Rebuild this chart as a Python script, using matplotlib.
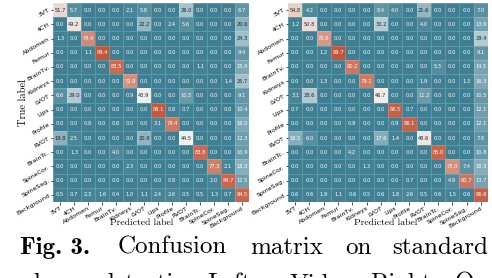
import numpy as np
import matplotlib
matplotlib.use("Agg")
import matplotlib.pyplot as plt
import seaborn as sns

CLASSES = ["3VT", "4CH", "Abdomen", "Femur", "BrainTv.", "Kidneys", "LVOT",
           "Lips", "Profile", "RVOT", "BrainTc.", "SpineCor.", "SpineSag.",
           "Background"]

# left: video baseline (row = true, col = predicted, in %)
CM_LEFT = [
    [51.7, 5.7, 0.0, 0.0, 0.0, 2.1, 5.8, 0.0, 0.0, 26.0, 0.0, 0.0, 0.0, 8.7],
    [0.0, 49.2, 0.0, 0.0, 0.0, 0.0, 22.2, 0.0, 2.4, 5.6, 0.0, 0.0, 0.0, 20.6],
    [1.3, 0.0, 74.4, 0.0, 0.0, 0.0, 0.0, 0.0, 0.0, 0.0, 0.0, 0.0, 0.0, 24.3],
    [0.0, 0.0, 1.1, 89.4, 0.0, 0.0, 0.0, 0.0, 0.0, 0.0, 0.0, 0.0, 0.0, 9.4],
    [0.0, 0.0, 0.0, 0.0, 83.5, 0.0, 0.0, 0.0, 0.0, 0.0, 1.1, 0.0, 0.0, 15.4],
    [0.0, 0.0, 0.0, 0.0, 0.0, 72.9, 0.0, 0.0, 0.0, 0.0, 0.0, 0.0, 1.4, 25.7],
    [6.6, 29.0, 0.0, 0.0, 0.0, 0.9, 43.9, 0.0, 0.0, 10.5, 0.0, 0.0, 0.0, 9.1],
    [0.0, 0.0, 0.0, 0.0, 0.0, 0.0, 0.0, 88.1, 0.8, 0.7, 0.0, 0.0, 0.0, 10.4],
    [0.0, 0.0, 0.8, 0.0, 0.8, 0.0, 0.0, 3.1, 79.4, 0.0, 0.0, 0.0, 0.0, 16.0],
    [19.8, 2.5, 0.0, 0.0, 0.0, 0.0, 20.9, 0.0, 0.0, 44.5, 0.0, 0.0, 0.0, 12.3],
    [0.0, 1.3, 0.0, 0.0, 4.0, 0.0, 0.0, 0.0, 0.0, 0.0, 83.8, 0.0, 0.0, 10.9],
    [0.0, 0.0, 0.0, 0.0, 0.0, 2.3, 0.0, 0.0, 0.0, 0.0, 0.0, 77.3, 2.1, 18.3],
    [0.0, 0.0, 0.0, 0.0, 0.0, 0.0, 0.0, 0.0, 0.8, 0.0, 0.0, 2.0, 84.7, 12.5],
    [0.5, 0.7, 2.3, 1.6, 0.4, 1.0, 1.1, 2.4, 2.6, 0.5, 0.5, 1.3, 0.7, 84.5],
]

# right: ours
CM_RIGHT = [
    [54.8, 4.2, 0.0, 0.0, 0.0, 0.0, 8.4, 4.0, 0.0, 21.6, 0.0, 0.0, 0.0, 7.0],
    [1.2, 50.8, 0.0, 0.0, 0.0, 0.0, 30.2, 0.0, 0.0, 4.0, 0.0, 0.0, 0.0, 13.9],
    [0.0, 0.0, 70.6, 0.0, 0.0, 0.0, 0.0, 0.0, 0.0, 0.0, 0.0, 0.0, 0.0, 29.4],
    [0.0, 0.0, 1.2, 89.7, 0.0, 0.0, 0.0, 0.0, 0.0, 0.0, 0.0, 0.0, 0.0, 9.1],
    [0.0, 0.0, 0.0, 0.0, 80.2, 0.0, 0.0, 0.0, 0.0, 0.0, 5.3, 0.0, 0.0, 14.5],
    [0.0, 0.0, 1.3, 0.0, 0.0, 79.1, 0.0, 0.0, 0.0, 1.9, 0.0, 0.0, 1.3, 16.3],
    [3.1, 28.6, 0.0, 0.0, 0.0, 0.0, 46.7, 0.0, 0.0, 11.2, 0.0, 0.0, 0.0, 10.5],
    [0.7, 0.0, 0.0, 0.0, 0.0, 0.0, 0.0, 86.5, 0.7, 0.0, 0.0, 0.0, 0.0, 12.1],
    [0.0, 0.0, 0.0, 0.0, 0.9, 0.0, 0.0, 0.9, 86.1, 0.0, 0.0, 0.0, 0.0, 12.1],
    [18.5, 6.0, 0.0, 0.0, 0.0, 0.0, 17.6, 1.4, 0.0, 48.6, 0.0, 0.0, 0.0, 7.8],
    [0.0, 0.0, 0.0, 0.0, 4.2, 0.0, 0.0, 0.0, 0.0, 0.0, 85.0, 0.0, 0.0, 10.8],
    [0.0, 0.0, 0.0, 0.0, 0.0, 1.3, 0.0, 0.0, 0.0, 0.0, 0.0, 73.0, 7.4, 18.3],
    [0.0, 0.0, 0.0, 0.0, 0.0, 0.0, 0.0, 0.0, 0.7, 0.0, 0.0, 4.9, 80.7, 13.7],
    [0.6, 0.6, 1.9, 1.1, 0.6, 0.5, 0.6, 1.8, 2.6, 0.5, 0.6, 1.5, 0.6, 86.6],
]

CAPTION_1 = ["Fig. 3.", "Confusion", "matrix", "on", "standard"]
CAPTION_2 = ["plane", "detection.", "Left:", "Video,", "Right:", "Ours."]

W, H = 492, 278
cmap = sns.diverging_palette(220, 20, as_cmap=True)


def px(x, y):
    return x / W, 1 - y / H


def draw_cm(ax, cm, xlab_x, ylabel):
    sns.heatmap(np.array(cm), ax=ax, cmap=cmap, cbar=False, annot=True,
                fmt=".1f", annot_kws={"size": 3.7},
                linewidths=0.4, linecolor=(1, 1, 1, 0.18),
                xticklabels=CLASSES, yticklabels=CLASSES)
    ax.tick_params(length=1.8, width=0.5, pad=0.8, labelsize=4.5)
    plt.setp(ax.get_xticklabels(), rotation=30, ha="right",
             rotation_mode="anchor")
    plt.setp(ax.get_yticklabels(), rotation=30, ha="right",
             rotation_mode="anchor")
    ax.set_xlabel("Predicted label", family="cmr10", fontsize=7)
    ax.xaxis.set_label_coords(xlab_x, -0.085)
    if ylabel:
        ax.set_ylabel("True label", family="cmr10", fontsize=7.5)
        ax.yaxis.set_label_coords(-0.128, 0.5)


fig = plt.figure(figsize=(W / 100, H / 100), dpi=100)
bot = 1 - 202 / H
top = 1 - 3 / H
ax1 = fig.add_axes([53 / W, bot, 196 / W, top - bot])
ax2 = fig.add_axes([288 / W, bot, 200 / W, top - bot])
draw_cm(ax1, CM_LEFT, 0.45, True)
draw_cm(ax2, CM_RIGHT, 0.49, False)

# caption, words spread like the justified original
xs1 = [20, 118, 250, 345, 392]
for i, (w, x) in enumerate(zip(CAPTION_1, xs1)):
    fam = "cmb10" if i == 0 else "cmr10"
    fig.text(*px(x, 254), w, family=fam, fontsize=18, va="baseline")
xs2 = [20, 100, 207, 290, 370, 455]
for w, x in zip(CAPTION_2, xs2):
    fig.text(*px(x, 290), w, family="cmr10", fontsize=18, va="baseline")

fig.savefig("out.png", dpi=100)
